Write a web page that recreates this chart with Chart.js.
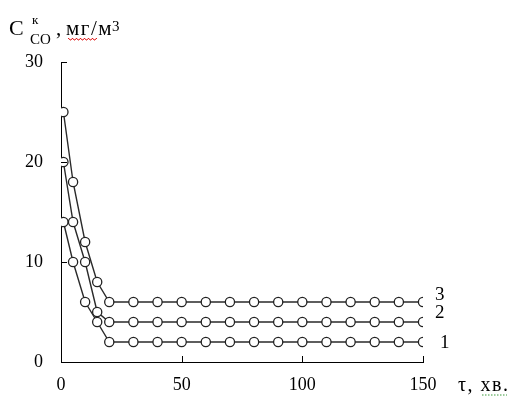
<!DOCTYPE html>
<html><head><meta charset="utf-8">
<script src="https://cdn.jsdelivr.net/npm/chart.js@4.4.1/dist/chart.umd.min.js"></script>
<style>html,body{margin:0;padding:0;background:#fff;}#wrap{width:509px;height:396px;position:relative;}</style>
</head><body><div id="wrap"><canvas id="c" width="509" height="396"></canvas></div>
<script>
const time = [1,5,10,15,20,30,40,50,60,70,80,90,100,110,120,130,140,150];
const series1 = [14,10,6,4,2,2,2,2,2,2,2,2,2,2,2,2,2,2];
const series2 = [20,14,10,5,4,4,4,4,4,4,4,4,4,4,4,4,4,4];
const series3 = [25,18,12,8,6,6,6,6,6,6,6,6,6,6,6,6,6,6];
const seriesLabels = ['1','2','3'];
const xTicks = [0,50,100,150];
const yTicks = [0,10,20,30];

const FONT = '"Liberation Serif", "Times New Roman", serif';
const mk = (vals) => vals.map((v,i)=>({x:time[i], y:v}));
const dsStyle = {borderColor:'#2a2a2a', borderWidth:1.4, pointRadius:4.6, pointBorderWidth:1.3,
  pointBackgroundColor:'#fff', pointBorderColor:'#222', tension:0, fill:false};

const inner = {
  id:'inner',
  afterDraw(chart){
    const ctx = chart.ctx, xs = chart.scales.x, ys = chart.scales.y, a = chart.chartArea;
    ctx.save();
    ctx.strokeStyle='#000'; ctx.lineWidth=1;
    xTicks.forEach(t=>{ if(t===0) return; const px=Math.round(xs.getPixelForValue(t))+0.5;
      ctx.beginPath(); ctx.moveTo(px,a.bottom); ctx.lineTo(px,a.bottom-6); ctx.stroke();});
    yTicks.forEach(t=>{ if(t===0) return; const py=Math.round(ys.getPixelForValue(t))+0.5;
      ctx.beginPath(); ctx.moveTo(a.left,py); ctx.lineTo(a.left+6,py); ctx.stroke();});
    // series labels
    ctx.fillStyle='#000'; ctx.font='19px '+FONT; ctx.textBaseline='alphabetic';
    const lastX = xs.getPixelForValue(time[time.length-1]);
    const ends=[series1[series1.length-1],series2[series2.length-1],series3[series3.length-1]];
    const offs=[[17,6],[12,-4],[12,-2]];
    ends.forEach((v,i)=>{ const py=ys.getPixelForValue(v);
      ctx.fillText(seriesLabels[i], lastX+offs[i][0], py+offs[i][1]); });
    // y title
    ctx.font='22px '+FONT; ctx.fillText('C',9,35);
    ctx.font='15px '+FONT; ctx.fillText('CO',30,44);
    ctx.font='13px '+FONT; ctx.fillText('к',32,24);
    ctx.font='21px '+FONT; ctx.fillText(',',56,35);
    ctx.letterSpacing='1.5px';
    ctx.fillText('мг/м',66,35);
    const w = ctx.measureText('мг/м').width;
    ctx.letterSpacing='0px';
    ctx.font='15px '+FONT; ctx.fillText('3',66+w-1,31);
    // x title
    ctx.font='20px '+FONT; ctx.letterSpacing='1.5px';
    ctx.fillText('τ, хв.',458,391);
    ctx.letterSpacing='0px';
    // spell-check decorations
    ctx.strokeStyle='#e02020'; ctx.lineWidth=1; ctx.beginPath();
    for(let x=68;x<=97;x+=1){ const y=38.5+((x%4)<2?0:1.5); if(x===68) ctx.moveTo(x,y); else ctx.lineTo(x,y);} ctx.stroke();
    ctx.strokeStyle='#3a9a3a'; ctx.setLineDash([1.5,1.5]); ctx.beginPath(); ctx.moveTo(482,395); ctx.lineTo(507,395); ctx.stroke();
    ctx.restore();
  }
};

new Chart(document.getElementById('c'), {
  type:'line',
  data:{datasets:[
    Object.assign({label:seriesLabels[0], data:mk(series1)}, dsStyle),
    Object.assign({label:seriesLabels[1], data:mk(series2)}, dsStyle),
    Object.assign({label:seriesLabels[2], data:mk(series3)}, dsStyle)
  ]},
  options:{
    responsive:false, animation:false, devicePixelRatio:1,
    layout:{padding:{left:0,top:62,right:86,bottom:0}},
    plugins:{legend:{display:false}, tooltip:{enabled:false}},
    scales:{
      x:{type:'linear', min:0, max:150,
        afterBuildTicks:s=>{s.ticks=xTicks.map(v=>({value:v}));},
        afterFit:s=>{s.height=34;},
        grid:{display:false, drawTicks:false},
        border:{display:true,color:'#000',width:1},
        ticks:{padding:12, color:'#000', font:{family:FONT,size:18}, maxRotation:0}},
      y:{type:'linear', min:0, max:30,
        afterBuildTicks:s=>{s.ticks=yTicks.map(v=>({value:v}));},
        afterFit:s=>{s.width=61;},
        grid:{display:false, drawTicks:false},
        border:{display:true,color:'#000',width:1},
        ticks:{padding:18, color:'#000', font:{family:FONT,size:18}}}
    }
  },
  plugins:[inner]
});
</script></body></html>
